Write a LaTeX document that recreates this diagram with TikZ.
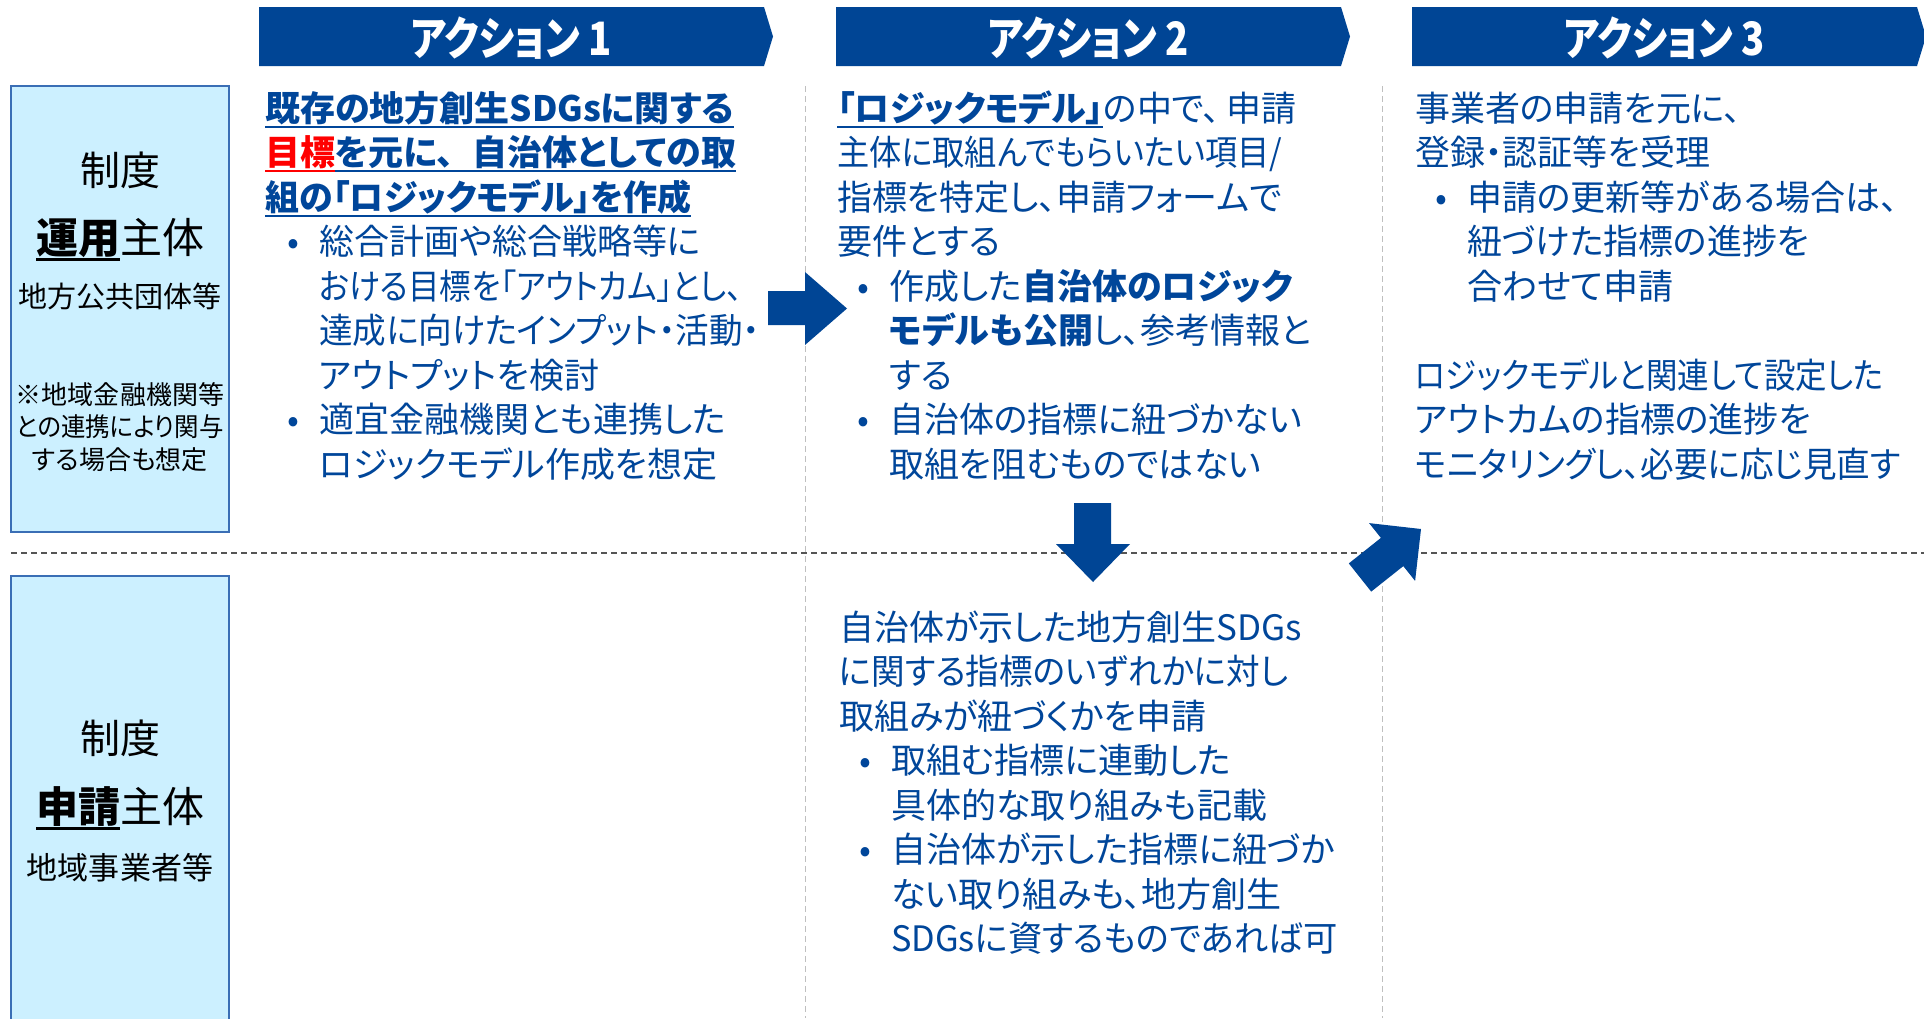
\documentclass[tikz,border=0pt]{standalone}
\usepackage{fontspec}
\usepackage{graphicx}
\setmainfont{Noto Sans CJK JP}[RawFeature={+palt}]
\definecolor{tblue}{HTML}{00469A}
\definecolor{bannerblue}{HTML}{004595}
\definecolor{boxfill}{HTML}{CCF0FF}
\definecolor{boxline}{HTML}{3A6EB5}
\definecolor{sepgray}{HTML}{555555}
\definecolor{colgray}{HTML}{BFBFBF}
\newcommand\myul[1]{\setbox0\hbox{#1}\rlap{\vrule height -0.13em depth 0.19em width \wd0}\box0}
\newcommand\bul{\llap{\makebox[52pt][c]{•}}}
\newcommand\sx[2]{\scalebox{#1}[1]{#2}}
\newcommand\bodyfont{\fontsize{35}{44}\selectfont}
\newcommand\bannerfont{\fontsize{46}{50}\selectfont\bfseries}
\tikzset{
  tl/.style={anchor=base west, inner sep=0pt, font=\bodyfont, text=tblue},
  lb/.style={anchor=base, inner sep=0pt, text=black},
  bannertext/.style={inner sep=0pt, font=\bannerfont, text=white},
  banner/.style={fill=bannerblue, draw=none},
  blockarrow/.style={fill=bannerblue, draw=none},
  sidebox/.style={draw=boxline, fill=boxfill, line width=1.5pt},
  rowsep/.style={draw=sepgray, line width=1.5pt, dash pattern=on 6pt off 4pt},
  colsep/.style={draw=colgray, line width=1pt, dash pattern=on 6pt off 4pt}
}
\begin{document}
\begin{tikzpicture}[x=1pt,y=-1pt]
\useasboundingbox (0,0) rectangle (1924,1018);
\clip (0,0) rectangle (1924,1018);
\fill[white] (0,0) rectangle (1924,1018);

% separators
\draw[colsep] (805,86) -- (805,1018);
\draw[colsep] (1382,86) -- (1382,1018);
\draw[rowsep] (11,553) -- (1924,553);

% banners
\fill[banner] (259,7) -- (764,7) -- (773,36.5) -- (764,66) -- (259,66) -- cycle;
\fill[banner] (836,7) -- (1341,7) -- (1350,36.5) -- (1341,66) -- (836,66) -- cycle;
\fill[banner] (1412,7) -- (1917,7) -- (1926,36.5) -- (1917,66) -- (1412,66) -- cycle;
\node[bannertext] (h1) at (511.5,38) {\sx{0.83}{アクション 1}};
\node[bannertext] (h2) at (1088.5,38) {\sx{0.83}{アクション 2}};
\node[bannertext] (h3) at (1664.5,38) {\sx{0.83}{アクション 3}};

% side boxes
\draw[sidebox] (11,86) rectangle (229,532);
\draw[sidebox] (11,576) rectangle (229,1040);
\node[lb, font=\fontsize{40}{48}\selectfont] (u1) at (120,185) {制度};
\node[lb, font=\fontsize{42}{50}\selectfont] (u2) at (120,253) {\myul{\bfseries 運用}主体};
\node[lb, font=\fontsize{29}{36}\selectfont] (u3) at (120,307) {地方公共団体等};
\node[lb, font=\fontsize{26}{32}\selectfont] (u4) at (120,404) {※地域金融機関等};
\node[lb, font=\fontsize{26}{32}\selectfont] (u5) at (120,436) {\sx{0.94}{との連携により関与}};
\node[lb, font=\fontsize{26}{32}\selectfont] (u6) at (120,469) {する場合も想定};
\node[lb, font=\fontsize{40}{48}\selectfont] (s1) at (120,753) {制度};
\node[lb, font=\fontsize{42}{50}\selectfont] (s2) at (120,822) {\myul{\bfseries 申請}主体};
\node[lb, font=\fontsize{31}{38}\selectfont] (s3) at (120,879) {地域事業者等};

% column 1
\node[tl] (a1l1) at (265,121) {\bfseries\myul{既存の地方創生SDGsに関する}};
\node[tl] (a1l2) at (265,165.5) {\bfseries{\color{red}\myul{目標}}\myul{を元に、\kern18pt 自治体としての取}};
\node[tl] (a1l3) at (265,210) {\bfseries\myul{\sx{0.97}{組の「ロジックモデル」を作成}}};
\node[tl] (a1l4) at (319,254.5) {\bul 総合計画や総合戦略等に};
\node[tl] (a1l5) at (319,299) {\sx{0.9}{おける目標を「アウトカム」とし、}};
\node[tl] (a1l6) at (319,343.5) {\sx{0.96}{達成に向けたインプット・活動・}};
\node[tl] (a1l7) at (319,388) {アウトプットを検討};
\node[tl] (a1l8) at (319,432.5) {\bul 適宜金融機関とも連携した};
\node[tl] (a1l9) at (319,477) {ロジックモデル作成を想定};

% column 2 top
\node[tl] (a2l1) at (837,121) {{\bfseries\myul{「ロジックモデル」}}の中で、\kern6pt 申請};
\node[tl] (a2l2) at (837,165.5) {\sx{0.92}{主体に取組んでもらいたい項目/}};
\node[tl] (a2l3) at (837,210) {指標を特定し、申請フォームで};
\node[tl] (a2l4) at (837,254.5) {要件とする};
\node[tl] (a2l5) at (889,299) {\bul 作成した{\bfseries 自治体のロジック}};
\node[tl] (a2l6) at (889,343.5) {{\bfseries モデルも公開}し、参考情報と};
\node[tl] (a2l7) at (889,388) {する};
\node[tl] (a2l8) at (889,432.5) {\bul 自治体の指標に紐づかない};
\node[tl] (a2l9) at (889,477) {取組を阻むものではない};

% column 2 bottom
\node[tl] (b2l1) at (839,640) {自治体が示した地方創生SDGs};
\node[tl] (b2l2) at (839,684.5) {\sx{0.96}{に関する指標のいずれかに対し}};
\node[tl] (b2l3) at (839,729) {取組みが紐づくかを申請};
\node[tl] (b2l4) at (891,773.5) {\bul 取組む指標に連動した};
\node[tl] (b2l5) at (891,818) {具体的な取り組みも記載};
\node[tl] (b2l6) at (891,862.5) {\bul 自治体が示した指標に紐づか};
\node[tl] (b2l7) at (891,907) {ない取り組みも、地方創生};
\node[tl] (b2l8) at (891,951.5) {\sx{0.98}{SDGsに資するものであれば可}};

% column 3
\node[tl] (a3l1) at (1415,121) {事業者の申請を元に、};
\node[tl] (a3l2) at (1415,165.5) {登録・認証等を受理};
\node[tl] (a3l3) at (1467,210) {\bul 申請の更新等がある場合は、};
\node[tl] (a3l4) at (1467,254.5) {紐づけた指標の進捗を};
\node[tl] (a3l5) at (1467,299) {合わせて申請};
\node[tl] (a3l7) at (1415,388) {\sx{0.9}{ロジックモデルと関連して設定した}};
\node[tl] (a3l8) at (1415,432.5) {アウトカムの指標の進捗を};
\node[tl] (a3l9) at (1415,477) {\sx{0.96}{モニタリングし、必要に応じ見直す}};

% block arrows
\fill[blockarrow] (768,291) -- (805,291) -- (805,272) -- (847,308.5) -- (805,345) -- (805,325) -- (768,325) -- cycle;
\fill[blockarrow] (1074,503) -- (1111,503) -- (1111,544) -- (1130,544) -- (1093,582) -- (1056,544) -- (1074,544) -- cycle;
\fill[blockarrow] (1371.2,591.6) -- (1403.3,566.1) -- (1415.1,580.9) -- (1421,529) -- (1369.1,523.1) -- (1380.9,537.9) -- (1348.8,563.4) -- cycle;
\end{tikzpicture}
\end{document}
